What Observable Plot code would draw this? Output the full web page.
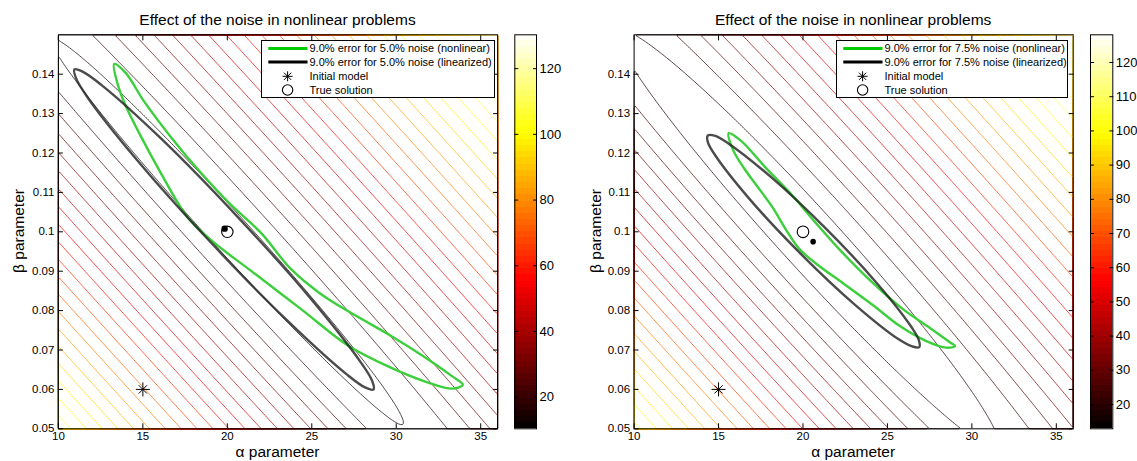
<!DOCTYPE html>
<html>
<head>
<meta charset="utf-8">
<script src="https://cdn.jsdelivr.net/npm/d3@7"></script>
<script src="https://cdn.jsdelivr.net/npm/@observablehq/plot@0.6"></script>
<style>
  html,body{margin:0;padding:0;background:#fff;}
  #wrap{position:relative;width:1137px;height:461px;overflow:hidden;background:#fff;font-family:"Liberation Sans",Arial,Helvetica,sans-serif;color:#000;}
  .box{position:absolute;top:0;}
  .box svg{display:block;overflow:visible;}
  .lbl{position:absolute;font-size:15.5px;white-space:nowrap;line-height:1;transform:translate(-50%,-50%);}
  .lbl.rot{transform:translate(-50%,-50%) rotate(-90deg);}
  .legend{position:absolute;overflow:visible;}
  .legend svg{overflow:visible;display:block;}
</style>
</head>
<body>
<div id="wrap"></div>
<script>
// ---------------- data ----------------
const alphaDomain = [10, 36];
const betaDomain = [0.05, 0.15];
const alphaTicks = [10, 15, 20, 25, 30, 35];
const betaTicks = [0.05, 0.06, 0.07, 0.08, 0.09, 0.1, 0.11, 0.12, 0.13, 0.14];
const betaTickLabels = ["0.05","0.06","0.07","0.08","0.09","0.1","0.11","0.12","0.13","0.14"];
const chartTitle = "Effect of the noise in nonlinear problems";
const alphaLabel = "α parameter";
const betaLabel = "β parameter";
const legendLeft = ["9.0% error for 5.0% noise (nonlinear)", "9.0% error for 5.0% noise (linearized)", "Initial model", "True solution"];
const legendRight = ["9.0% error for 7.5% noise (nonlinear)", "9.0% error for 7.5% noise (linearized)", "Initial model", "True solution"];

const initialModel = [[15, 0.06]];
const trueSolution = [[20, 0.1]];
const leftEstimate = [[19.84, 0.1008]];
const rightEstimate = [[20.6, 0.0975]];

// misfit surface: [alpha centre, beta centre, valley slope, floor, gradient below valley, gradient above valley, along-valley gradient]
const leftMisfit = [20, 0.1, 0.0047, 10.4, 5.4, 4.9, 0.75];
const rightMisfit = [20.3, 0.098, 0.0047, 12.9, 5.3, 4.8, 1.05];
const leftLevels = [13, 18, 23, 28, 33, 38, 43, 48, 53, 58, 63, 68, 73, 78, 83, 88, 93, 98, 103, 108, 113, 118, 123, 128, 133];
const rightLevels = [17.5, 22.5, 27.5, 32.5, 37.5, 42.5, 47.5, 52.5, 57.5, 62.5, 67.5, 72.5, 77.5, 82.5, 87.5, 92.5, 97.5, 102.5, 107.5, 112.5, 117.5, 122.5, 127.5, 132.5];
const leftColorLimits = [10.4, 130.3];
const rightColorLimits = [12.9, 128.1];
const leftColorTicks = [20, 40, 60, 80, 100, 120];
const rightColorTicks = [20, 30, 40, 50, 60, 70, 80, 90, 100, 110, 120];

const leftLinearized = [[28.66,0.0600],[28.57,0.0622],[27.88,0.0670],[24.93,0.0831],[20.61,0.1038],[16.07,0.1237],[12.54,0.1373],[11.46,0.1406],[10.95,0.1412],[11.04,0.1390],[11.73,0.1341],[14.68,0.1181],[19.00,0.0974],[23.54,0.0775],[27.07,0.0638],[28.15,0.0605]];
const leftNonlinear = [[13.30,0.1426],[13.97,0.1404],[15.04,0.1333],[16.69,0.1239],[18.41,0.1151],[20.13,0.1072],[22.02,0.0996],[23.73,0.0907],[25.51,0.0843],[27.57,0.0788],[29.65,0.0737],[31.72,0.0681],[33.32,0.0633],[33.94,0.0612],[33.32,0.0602],[31.72,0.0620],[29.65,0.0656],[27.16,0.0711],[24.33,0.0805],[21.37,0.0902],[19.06,0.0978],[17.58,0.1041],[16.04,0.1151],[14.86,0.1244],[13.97,0.1321],[13.50,0.1376]];
const rightLinearized = [[26.88,0.0707],[26.86,0.0725],[26.41,0.0759],[24.39,0.0869],[21.36,0.1008],[18.13,0.1138],[15.56,0.1225],[14.76,0.1244],[14.36,0.1244],[14.37,0.1227],[14.82,0.1193],[16.84,0.1083],[19.87,0.0944],[23.10,0.0814],[25.67,0.0727],[26.47,0.0709]];
const rightNonlinear = [[15.60,0.1250],[16.30,0.1232],[17.83,0.1161],[19.37,0.1092],[20.73,0.1024],[22.21,0.0953],[23.99,0.0876],[25.88,0.0805],[27.54,0.0755],[28.72,0.0719],[29.01,0.0710],[28.49,0.0706],[27.24,0.0724],[25.76,0.0760],[24.17,0.0813],[22.39,0.0869],[20.90,0.0915],[19.75,0.0958],[19.00,0.1005],[18.20,0.1062],[17.30,0.1115],[16.53,0.1160],[15.88,0.1206]];

// ---------------- styles ----------------
const FONT = '"Liberation Sans", Arial, Helvetica, sans-serif';
const HOT = ["#000000", "#ff0000", "#ffff00", "#ffffff"];
const HOT_POS = [0, 0.375, 0.75, 1];
const GREEN = "#3ccf3c";
const DARK = "#1e1e1e";
const MT = 34.3, MB = 32.7, H = 461;

function colorScale(lim) {
  return {type: "linear", domain: HOT_POS.map(f => lim[0] + f * (lim[1] - lim[0])), range: HOT, interpolate: "rgb", clamp: true};
}
function misfit(p) {
  const [ac, bc, slope, floor, below, above, along] = p;
  return (a, b) => {
    const da = a - ac, db = (b - bc) / slope;
    const u = da + db, w = (da - db) / 2;
    return Math.hypot(floor, (u < 0 ? below : above) * u, along * w);
  };
}
const X = d => d[0], Y = d => d[1];

function panel(o) {
  return Plot.plot({
    width: o.width, height: H,
    marginLeft: o.ml, marginRight: o.mr, marginTop: MT, marginBottom: MB,
    style: {background: "none", fontFamily: FONT, fontSize: "11.5px", color: "#000", overflow: "visible"},
    x: {domain: alphaDomain, label: null},
    y: {domain: betaDomain, label: null},
    color: colorScale(o.clim),
    marks: [
      Plot.contour({x1: alphaDomain[0], x2: alphaDomain[1], y1: betaDomain[0], y2: betaDomain[1],
        value: misfit(o.misfit), thresholds: o.levels, stroke: "value", fill: "none", strokeWidth: 1, strokeOpacity: 0.72}),
      Plot.line(o.nonlinear, {x: X, y: Y, curve: "catmull-rom-closed", stroke: GREEN, strokeWidth: 2.4}),
      Plot.line(o.linearized, {x: X, y: Y, curve: "catmull-rom-closed", stroke: DARK, strokeOpacity: 0.8, strokeWidth: 2.4}),
      Plot.dot(initialModel, {x: X, y: Y, symbol: "plus", r: 4.6, stroke: "#000", strokeWidth: 1}),
      Plot.dot(initialModel, {x: X, y: Y, symbol: "times", r: 3.8, stroke: "#000", strokeWidth: 1}),
      Plot.dot(trueSolution, {x: X, y: Y, r: o.circleR, stroke: "#000", fill: "none", strokeWidth: 1.1}),
      Plot.dot(o.estimate, {x: X, y: Y, r: o.dotR, fill: "#000", stroke: "none"}),
      Plot.frame({stroke: "#000"}),
      Plot.axisX({ticks: alphaTicks, tickSize: 0, tickPadding: 3, label: null, fontSize: 11.5}),
      Plot.axisX({ticks: alphaTicks, tickSize: 5, dy: -5, fill: "none", label: null}),
      Plot.axisX({anchor: "top", ticks: alphaTicks, tickSize: 5, dy: 5, fill: "none", label: null}),
      Plot.axisY({ticks: betaTicks, tickSize: 0, tickPadding: 4, label: null, fontSize: 11.5,
        tickFormat: d => betaTickLabels[betaTicks.indexOf(d)]}),
      Plot.axisY({ticks: betaTicks, tickSize: 5, dx: 5, fill: "none", label: null}),
      Plot.axisY({anchor: "right", ticks: betaTicks, tickSize: 5, dx: -5, fill: "none", label: null})
    ]
  });
}

function colorbar(o) {
  const [lo, hi] = o.clim;
  const bands = d3.range(64).map(i => [lo + (hi - lo) * i / 64, lo + (hi - lo) * (i + 1) / 64]);
  return Plot.plot({
    width: 70, height: H,
    marginLeft: o.ml, marginRight: 70 - o.ml - o.bw, marginTop: MT, marginBottom: MB,
    style: {background: "none", fontFamily: FONT, fontSize: "13px", color: "#000", overflow: "visible"},
    x: {domain: [0, 1], axis: null},
    y: {domain: [lo, hi], label: null},
    color: colorScale(o.clim),
    marks: [
      Plot.rect(bands, {x1: 0, x2: 1, y1: d => d[0], y2: d => d[1], fill: d => (d[0] + d[1]) / 2, shapeRendering: "crispEdges"}),
      Plot.frame({stroke: "#000"}),
      Plot.axisY({anchor: "right", ticks: o.ticks, tickSize: 0, tickPadding: 3, label: null, fontSize: 13}),
      Plot.axisY({anchor: "right", ticks: o.ticks, tickSize: 4, dx: -4, fill: "none", label: null}),
      Plot.axisY({anchor: "left", ticks: o.ticks, tickSize: 4, dx: 4, fill: "none", label: null})
    ]
  });
}

function legend(left, width, labels) {
  const h = 58;
  const svg = d3.create("svg").attr("width", width).attr("height", h)
    .style("font-family", FONT).style("font-size", "11px");
  svg.append("rect").attr("x", 0.5).attr("y", 0.5).attr("width", width - 1).attr("height", h - 1)
    .attr("fill", "#fff").attr("stroke", "#000");
  const rows = [8.5, 22, 36.3, 50];
  const sx = [7.3, 46.5], mx = 26.6, tx = 48.5;
  svg.append("line").attr("x1", sx[0]).attr("x2", sx[1]).attr("y1", rows[0]).attr("y2", rows[0]).attr("stroke", "#00cc00").attr("stroke-width", 3);
  svg.append("line").attr("x1", sx[0]).attr("x2", sx[1]).attr("y1", rows[1]).attr("y2", rows[1]).attr("stroke", "#000").attr("stroke-width", 3);
  const a = svg.append("g").attr("transform", `translate(${mx},${rows[2]})`).attr("stroke", "#000").attr("stroke-width", 1);
  a.append("line").attr("x1", 0).attr("x2", 0).attr("y1", -5).attr("y2", 5);
  a.append("line").attr("x1", -5).attr("x2", 5).attr("y1", 0).attr("y2", 0);
  a.append("line").attr("x1", -3.6).attr("x2", 3.6).attr("y1", -3.6).attr("y2", 3.6);
  a.append("line").attr("x1", -3.6).attr("x2", 3.6).attr("y1", 3.6).attr("y2", -3.6);
  svg.append("circle").attr("cx", mx).attr("cy", rows[3]).attr("r", 5.2).attr("fill", "none").attr("stroke", "#000").attr("stroke-width", 1.1);
  labels.forEach((t, i) => svg.append("text").attr("x", tx).attr("y", rows[i]).attr("dy", "0.35em").attr("fill", "#000").text(t));
  const div = document.createElement("div");
  div.className = "legend";
  div.style.left = left + "px"; div.style.top = "40px";
  div.style.width = width + "px"; div.style.height = h + "px";
  div.appendChild(svg.node());
  return div;
}

const wrap = document.getElementById("wrap");
function place(node, left, width) {
  const d = document.createElement("div");
  d.className = "box"; d.style.left = left + "px"; d.style.width = width + "px";
  d.appendChild(node); wrap.appendChild(d);
}
function label(text, x, y, rot) {
  const d = document.createElement("div");
  d.className = "lbl" + (rot ? " rot" : "");
  d.style.left = x + "px"; d.style.top = y + "px";
  d.textContent = text; wrap.appendChild(d);
}

// right panel first so the left colour bar labels remain visible on top
place(panel({width: 577, ml: 73.6, mr: 64.3, clim: rightColorLimits, misfit: rightMisfit, levels: rightLevels,
  nonlinear: rightNonlinear, linearized: rightLinearized, estimate: rightEstimate, circleR: 5.8, dotR: 2.8}), 560, 577);
place(panel({width: 560, ml: 57.9, mr: 62.9, clim: leftColorLimits, misfit: leftMisfit, levels: leftLevels,
  nonlinear: leftNonlinear, linearized: leftLinearized, estimate: leftEstimate, circleR: 5.7, dotR: 3.2}), 0, 560);
place(colorbar({clim: rightColorLimits, ticks: rightColorTicks, ml: 10, bw: 22.3}), 1080, 70);
place(colorbar({clim: leftColorLimits, ticks: leftColorTicks, ml: 10.3, bw: 21.7}), 504, 70);

wrap.appendChild(legend(260.7, 234, legendLeft));
wrap.appendChild(legend(836, 232, legendRight));

label(chartTitle, 277.5, 20);
label(chartTitle, 853.2, 20);
label(alphaLabel, 277.5, 452);
label(alphaLabel, 853.2, 452);
label(betaLabel, 19, 231.3, true);
label(betaLabel, 596, 231.3, true);
</script>
</body>
</html>
